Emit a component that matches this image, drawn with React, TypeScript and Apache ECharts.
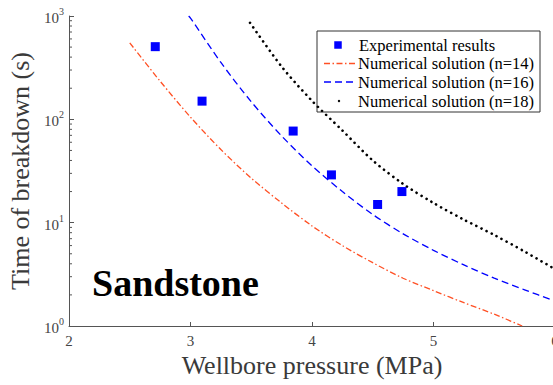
import React, { useEffect, useRef } from "react";
import * as echarts from "echarts";

const FONT = "Liberation Serif, Times New Roman, serif";

// Experimental results: [pressure MPa, time s]
const experimental: [number, number][] = [
  [2.71, 505],
  [3.095, 150],
  [3.845, 77],
  [4.16, 29],
  [4.54, 15],
  [4.74, 20],
];

// Numerical solution n=14
const n14: [number, number][] = [
  [2.5, 550], [2.75, 234], [3.0, 105], [3.25, 51], [3.5, 27], [3.75, 15.5],
  [4.0, 9.3], [4.25, 6.0], [4.5, 4.1], [4.75, 2.9], [5.0, 2.2], [5.25, 1.68],
  [5.5, 1.3], [5.73, 1.0],
];

// Numerical solution n=16
const n16: [number, number][] = [
  [2.985, 1000], [3.0, 955], [3.25, 355], [3.5, 148], [3.75, 69], [4.0, 35.5],
  [4.25, 20], [4.5, 12], [4.75, 7.8], [5.0, 5.4], [5.25, 3.9], [5.5, 2.9],
  [5.75, 2.24], [6.0, 1.74],
];

// Numerical solution n=18
const n18: [number, number][] = [
  [3.49, 860], [3.75, 324], [4.0, 151], [4.25, 78], [4.5, 40], [4.75, 23.7],
  [5.0, 15.5], [5.25, 10.7], [5.5, 7.6], [5.75, 5.25], [6.0, 3.55],
];

const xTicks = [2, 3, 4, 5, 6];
const yMajor = [1, 10, 100, 1000];
const yMinor = [2, 3, 4, 5, 6, 7, 8, 9, 20, 30, 40, 50, 60, 70, 80, 90, 200, 300, 400, 500, 600, 700, 800, 900];

const legendLabels = [
  "Experimental results",
  "Numerical solution (n=14)",
  "Numerical solution (n=16)",
  "Numerical solution (n=18)",
];

const COLORS = { exp: "#0000ff", n14: "#ff5024", n16: "#0000ff", n18: "#000000" };

export default function App() {
  const ref = useRef<HTMLDivElement>(null);
  useEffect(() => {
    if (!ref.current) return;
    document.body.style.margin = "0";
    const chart = echarts.init(ref.current, undefined, { renderer: "svg" });
    const axisColor = "#555";
    const labelColor = "#444";
    const legendX = 317, legendY = 31, legendW = 223, legendH = 81;
    const rowY = [45, 63.5, 82, 101];
    const sampleX1 = 324, sampleX2 = 357, textX = 358;

    chart.setOption({
      animation: false,
      textStyle: { fontFamily: FONT },
      grid: { left: 69, right: -2, top: 16, bottom: 59, containLabel: false, outerBoundsMode: "none" },
      xAxis: {
        type: "value",
        min: xTicks[0],
        max: xTicks[xTicks.length - 1],
        interval: 1,
        name: "Wellbore pressure (MPa)",
        nameLocation: "middle",
        nameGap: 24,
        nameTextStyle: { fontFamily: FONT, fontSize: 26, color: "#3a3a3a" },
        axisLine: { show: true, lineStyle: { color: axisColor, width: 1 } },
        axisTick: { show: true, inside: true, length: 4, lineStyle: { color: axisColor } },
        axisLabel: { fontFamily: FONT, fontSize: 15, color: labelColor, margin: 7, hideOverlap: false },
        splitLine: { show: false },
      },
      yAxis: {
        type: "log",
        logBase: 10,
        min: yMajor[0],
        max: yMajor[yMajor.length - 1],
        name: "Time of breakdown (s)",
        nameLocation: "middle",
        nameGap: 26,
        nameTextStyle: { fontFamily: FONT, fontSize: 26, color: "#3a3a3a" },
        axisLine: { show: true, lineStyle: { color: axisColor, width: 1 } },
        axisTick: { show: true, inside: true, length: 5, lineStyle: { color: axisColor } },
        axisLabel: {
          margin: 5,
          fontFamily: FONT,
          formatter: (v: number) => `{b|10}{s|${Math.round(Math.log10(v))}}`,
          rich: {
            b: { fontFamily: FONT, fontSize: 15, color: labelColor, verticalAlign: "bottom", lineHeight: 19 },
            s: { fontFamily: FONT, fontSize: 10, color: labelColor, verticalAlign: "top", lineHeight: 19 },
          },
        },
        splitLine: { show: false },
      },
      series: [
        {
          name: legendLabels[1],
          type: "line",
          data: n14,
          smooth: 0.3,
          showSymbol: false,
          symbol: "none",
          lineStyle: { color: COLORS.n14, width: 1.3, type: [6, 2.5, 1.5, 2.5] },
          z: 2,
        },
        {
          name: legendLabels[2],
          type: "line",
          data: n16,
          smooth: 0.3,
          showSymbol: false,
          symbol: "none",
          lineStyle: { color: COLORS.n16, width: 1.3, type: [7, 4] },
          z: 2,
        },
        {
          name: legendLabels[3],
          type: "line",
          data: n18,
          smooth: 0.3,
          showSymbol: false,
          symbol: "none",
          lineStyle: { color: COLORS.n18, width: 2.6, type: [0.1, 5.6], cap: "round" },
          z: 2,
        },
        {
          name: legendLabels[0],
          type: "scatter",
          data: experimental,
          symbol: "rect",
          symbolSize: 9,
          itemStyle: { color: COLORS.exp, opacity: 1, borderWidth: 0 },
          z: 3,
        },
        {
          name: "minorTicks",
          type: "custom",
          data: yMinor.map((v) => [xTicks[0], v]),
          encode: { x: 0, y: 1 },
          silent: true,
          renderItem: (params: any, api: any) => {
            const p = api.coord([api.value(0), api.value(1)]);
            return {
              type: "line",
              shape: { x1: p[0], y1: p[1], x2: p[0] + 3, y2: p[1] },
              style: { stroke: axisColor, lineWidth: 1 },
            };
          },
          z: 1,
        },
      ],
      graphic: [
        {
          type: "group",
          z: 100,
          children: [
            {
              type: "rect",
              shape: { x: legendX, y: legendY, width: legendW, height: legendH },
              style: { fill: "#ffffff", stroke: "#333", lineWidth: 1 },
            },
            {
              type: "rect",
              shape: { x: 338 - 3.75, y: rowY[0] - 3.75, width: 7.5, height: 7.5 },
              style: { fill: COLORS.exp },
            },
            {
              type: "line",
              shape: { x1: sampleX1, y1: rowY[1], x2: sampleX2, y2: rowY[1] },
              style: { stroke: COLORS.n14, lineWidth: 1.3, lineDash: [6, 2.5, 1.5, 2.5] },
            },
            {
              type: "line",
              shape: { x1: sampleX1, y1: rowY[2], x2: sampleX2, y2: rowY[2] },
              style: { stroke: COLORS.n16, lineWidth: 1.3, lineDash: [7, 4] },
            },
            {
              type: "circle",
              shape: { cx: 339, cy: rowY[3], r: 1.2 },
              style: { fill: COLORS.n18 },
            },
            ...legendLabels.map((t, i) => ({
              type: "text",
              x: textX + (i === 0 ? 1 : 0),
              y: rowY[i],
              style: {
                text: t,
                fontFamily: FONT,
                fontSize: 16.5,
                fill: "#000",
                verticalAlign: "middle",
                align: "left",
              },
            })),
          ],
        },
        {
          type: "text",
          x: 92,
          y: 283,
          z: 100,
          style: {
            text: "Sandstone",
            fontFamily: FONT,
            fontSize: 38,
            fontWeight: "bold",
            fill: "#000",
            verticalAlign: "middle",
            align: "left",
          },
        },
      ],
    });
    return () => chart.dispose();
  }, []);
  return <div ref={ref} style={{ width: 553, height: 385 }} />;
}
